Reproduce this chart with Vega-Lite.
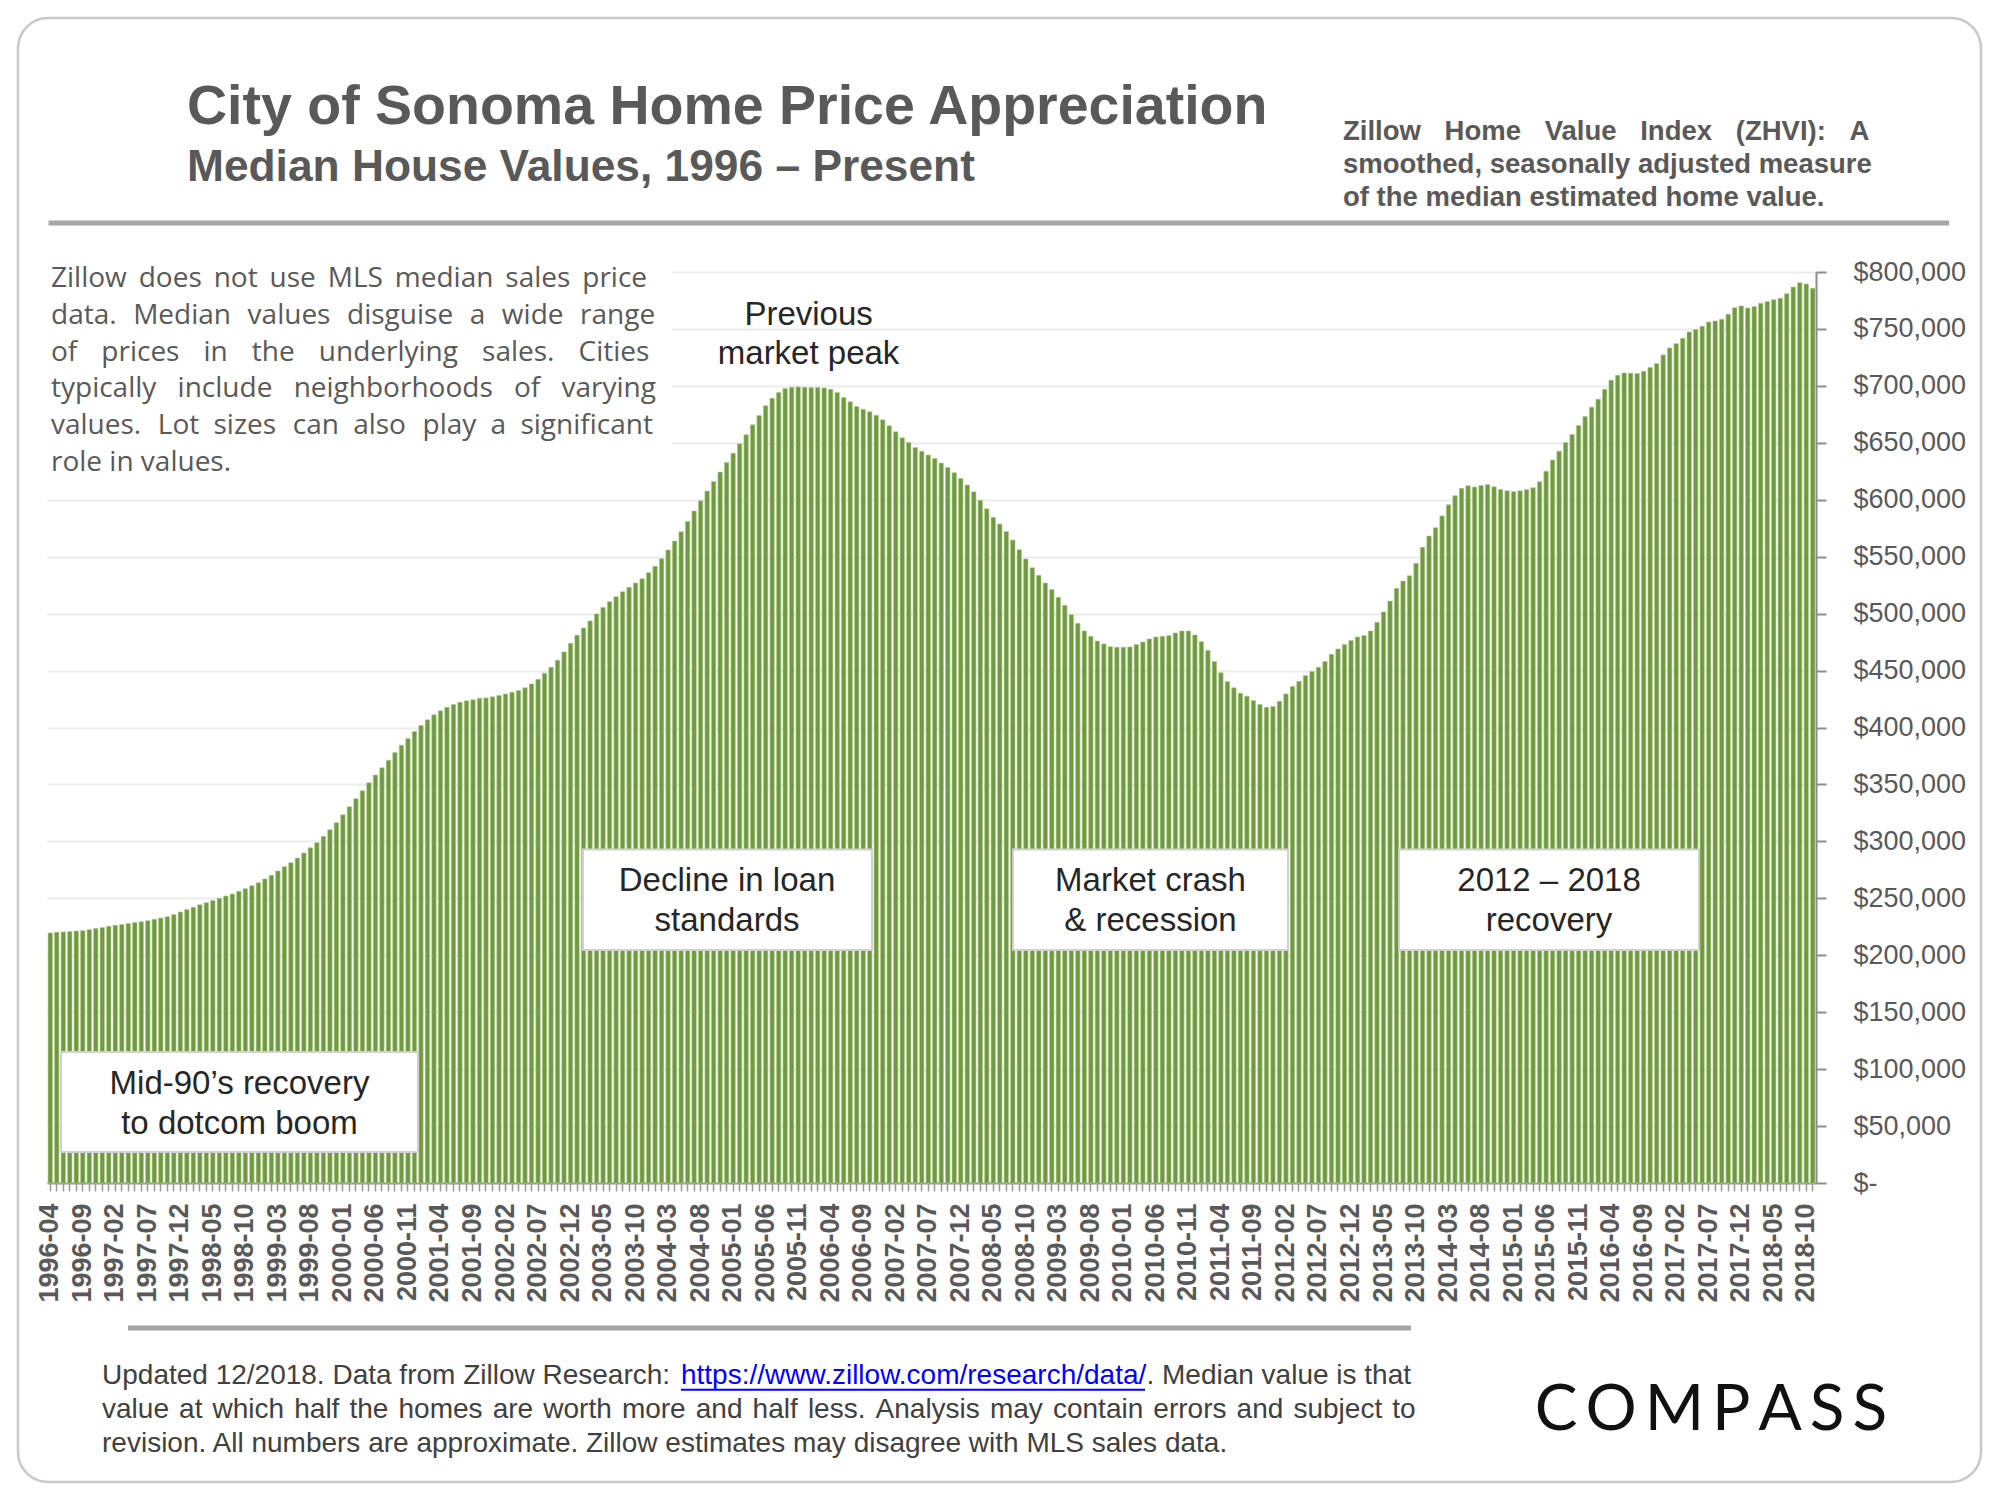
{
"$schema": "https://vega.github.io/schema/vega-lite/v6.json",
"width": 1769, "height": 911,
"autosize": {"type": "none"},
"padding": {"left": 47, "top": 272, "right": 184, "bottom": 317},
"background": "white",
"config": {"font": "Liberation Sans", "view": {"stroke": null}},
"resolve": {"scale": {"x": "independent", "y": "independent"}},
"layer": [
{"data": {"values": [{}]},
 "mark": {"type": "rect", "fill": "white", "fillOpacity": 0, "stroke": "#c8c8c8", "strokeWidth": 2.5, "cornerRadius": 30},
 "encoding": {"x": {"datum": -4.96, "type": "quantitative", "scale": {"domain": [-0.5, 271.5], "nice": false, "zero": false}, "axis": null},
  "x2": {"datum": 296.87},
  "y": {"datum": 1023056, "type": "quantitative", "scale": {"domain": [0, 800000], "nice": false}, "axis": null},
  "y2": {"datum": -262570}}},
{"data": {"values": [
{"month":"1996-04","value":219600},{"month":"1996-05","value":220200},{"month":"1996-06","value":220500},{"month":"1996-07","value":220800},{"month":"1996-08","value":221300},{"month":"1996-09","value":221600},{"month":"1996-10","value":222500},{"month":"1996-11","value":223400},{"month":"1996-12","value":224300},
{"month":"1997-01","value":225400},{"month":"1997-02","value":226300},{"month":"1997-03","value":226900},{"month":"1997-04","value":227800},{"month":"1997-05","value":228700},{"month":"1997-06","value":229500},{"month":"1997-07","value":230400},{"month":"1997-08","value":231600},{"month":"1997-09","value":232700},{"month":"1997-10","value":233900},{"month":"1997-11","value":235700},{"month":"1997-12","value":238000},
{"month":"1998-01","value":240100},{"month":"1998-02","value":242100},{"month":"1998-03","value":244400},{"month":"1998-04","value":246200},{"month":"1998-05","value":248000},{"month":"1998-06","value":250000},{"month":"1998-07","value":252000},{"month":"1998-08","value":253800},{"month":"1998-09","value":256100},{"month":"1998-10","value":258500},{"month":"1998-11","value":261100},{"month":"1998-12","value":263700},
{"month":"1999-01","value":267000},{"month":"1999-02","value":270200},{"month":"1999-03","value":274000},{"month":"1999-04","value":277800},{"month":"1999-05","value":281300},{"month":"1999-06","value":285400},{"month":"1999-07","value":289800},{"month":"1999-08","value":294400},{"month":"1999-09","value":298800},{"month":"1999-10","value":304400},{"month":"1999-11","value":310200},{"month":"1999-12","value":316400},
{"month":"2000-01","value":323400},{"month":"2000-02","value":330400},{"month":"2000-03","value":337400},{"month":"2000-04","value":344400},{"month":"2000-05","value":351500},{"month":"2000-06","value":358200},{"month":"2000-07","value":364600},{"month":"2000-08","value":371300},{"month":"2000-09","value":378100},{"month":"2000-10","value":384500},{"month":"2000-11","value":390300},{"month":"2000-12","value":396500},
{"month":"2001-01","value":401800},{"month":"2001-02","value":406700},{"month":"2001-03","value":411100},{"month":"2001-04","value":414600},{"month":"2001-05","value":417800},{"month":"2001-06","value":420200},{"month":"2001-07","value":422200},{"month":"2001-08","value":423400},{"month":"2001-09","value":424300},{"month":"2001-10","value":425700},{"month":"2001-11","value":426000},{"month":"2001-12","value":426900},
{"month":"2002-01","value":428100},{"month":"2002-02","value":429500},{"month":"2002-03","value":431000},{"month":"2002-04","value":432600},{"month":"2002-05","value":435000},{"month":"2002-06","value":438300},{"month":"2002-07","value":442300},{"month":"2002-08","value":447700},{"month":"2002-09","value":452900},{"month":"2002-10","value":459100},{"month":"2002-11","value":466400},{"month":"2002-12","value":474000},
{"month":"2003-01","value":481000},{"month":"2003-02","value":487400},{"month":"2003-03","value":493600},{"month":"2003-04","value":499700},{"month":"2003-05","value":505300},{"month":"2003-06","value":510500},{"month":"2003-07","value":514900},{"month":"2003-08","value":519300},{"month":"2003-09","value":523100},{"month":"2003-10","value":526900},{"month":"2003-11","value":530700},{"month":"2003-12","value":536000},
{"month":"2004-01","value":541500},{"month":"2004-02","value":548200},{"month":"2004-03","value":555800},{"month":"2004-04","value":563700},{"month":"2004-05","value":571900},{"month":"2004-06","value":581000},{"month":"2004-07","value":590100},{"month":"2004-08","value":599100},{"month":"2004-09","value":607600},{"month":"2004-10","value":616100},{"month":"2004-11","value":624300},{"month":"2004-12","value":632800},
{"month":"2005-01","value":640900},{"month":"2005-02","value":649100},{"month":"2005-03","value":657000},{"month":"2005-04","value":665800},{"month":"2005-05","value":674000},{"month":"2005-06","value":682500},{"month":"2005-07","value":689200},{"month":"2005-08","value":694200},{"month":"2005-09","value":697700},{"month":"2005-10","value":698800},{"month":"2005-11","value":699100},{"month":"2005-12","value":698800},
{"month":"2006-01","value":698500},{"month":"2006-02","value":698500},{"month":"2006-03","value":698200},{"month":"2006-04","value":697100},{"month":"2006-05","value":694200},{"month":"2006-06","value":689800},{"month":"2006-07","value":686000},{"month":"2006-08","value":681900},{"month":"2006-09","value":679500},{"month":"2006-10","value":677200},{"month":"2006-11","value":674300},{"month":"2006-12","value":670200},
{"month":"2007-01","value":664900},{"month":"2007-02","value":659700},{"month":"2007-03","value":654400},{"month":"2007-04","value":650300},{"month":"2007-05","value":645900},{"month":"2007-06","value":642700},{"month":"2007-07","value":639200},{"month":"2007-08","value":636300},{"month":"2007-09","value":632200},{"month":"2007-10","value":628400},{"month":"2007-11","value":623700},{"month":"2007-12","value":618700},
{"month":"2008-01","value":612900},{"month":"2008-02","value":607000},{"month":"2008-03","value":599500},{"month":"2008-04","value":592000},{"month":"2008-05","value":584600},{"month":"2008-06","value":578700},{"month":"2008-07","value":572200},{"month":"2008-08","value":564600},{"month":"2008-09","value":556100},{"month":"2008-10","value":548000},{"month":"2008-11","value":540300},{"month":"2008-12","value":533600},
{"month":"2009-01","value":526900},{"month":"2009-02","value":521100},{"month":"2009-03","value":514300},{"month":"2009-04","value":507300},{"month":"2009-05","value":499100},{"month":"2009-06","value":491500},{"month":"2009-07","value":484800},{"month":"2009-08","value":480100},{"month":"2009-09","value":476000},{"month":"2009-10","value":473400},{"month":"2009-11","value":471000},{"month":"2009-12","value":470500},
{"month":"2010-01","value":470500},{"month":"2010-02","value":470800},{"month":"2010-03","value":472800},{"month":"2010-04","value":475100},{"month":"2010-05","value":477800},{"month":"2010-06","value":479500},{"month":"2010-07","value":480100},{"month":"2010-08","value":480700},{"month":"2010-09","value":483000},{"month":"2010-10","value":484800},{"month":"2010-11","value":484800},{"month":"2010-12","value":481300},
{"month":"2011-01","value":475400},{"month":"2011-02","value":467800},{"month":"2011-03","value":457900},{"month":"2011-04","value":448000},{"month":"2011-05","value":440300},{"month":"2011-06","value":434800},{"month":"2011-07","value":430100},{"month":"2011-08","value":427500},{"month":"2011-09","value":423700},{"month":"2011-10","value":420200},{"month":"2011-11","value":417800},{"month":"2011-12","value":418400},
{"month":"2012-01","value":423100},{"month":"2012-02","value":429500},{"month":"2012-03","value":436000},{"month":"2012-04","value":440600},{"month":"2012-05","value":445600},{"month":"2012-06","value":449100},{"month":"2012-07","value":452900},{"month":"2012-08","value":457900},{"month":"2012-09","value":464300},{"month":"2012-10","value":469000},{"month":"2012-11","value":472800},{"month":"2012-12","value":476300},
{"month":"2013-01","value":479500},{"month":"2013-02","value":480700},{"month":"2013-03","value":484800},{"month":"2013-04","value":492400},{"month":"2013-05","value":501500},{"month":"2013-06","value":511100},{"month":"2013-07","value":522200},{"month":"2013-08","value":528700},{"month":"2013-09","value":533300},{"month":"2013-10","value":544200},{"month":"2013-11","value":558200},{"month":"2013-12","value":568100},
{"month":"2014-01","value":575500},{"month":"2014-02","value":585800},{"month":"2014-03","value":595600},{"month":"2014-04","value":603500},{"month":"2014-05","value":610000},{"month":"2014-06","value":612300},{"month":"2014-07","value":611100},{"month":"2014-08","value":612600},{"month":"2014-09","value":613500},{"month":"2014-10","value":611400},{"month":"2014-11","value":609100},{"month":"2014-12","value":607900},
{"month":"2015-01","value":607300},{"month":"2015-02","value":607900},{"month":"2015-03","value":609100},{"month":"2015-04","value":610500},{"month":"2015-05","value":615800},{"month":"2015-06","value":625100},{"month":"2015-07","value":634800},{"month":"2015-08","value":642700},{"month":"2015-09","value":650300},{"month":"2015-10","value":657300},{"month":"2015-11","value":665200},{"month":"2015-12","value":673100},
{"month":"2016-01","value":681300},{"month":"2016-02","value":688300},{"month":"2016-03","value":697100},{"month":"2016-04","value":705000},{"month":"2016-05","value":709400},{"month":"2016-06","value":711400},{"month":"2016-07","value":711100},{"month":"2016-08","value":710800},{"month":"2016-09","value":712900},{"month":"2016-10","value":716100},{"month":"2016-11","value":719600},{"month":"2016-12","value":727200},
{"month":"2017-01","value":733300},{"month":"2017-02","value":737100},{"month":"2017-03","value":741800},{"month":"2017-04","value":747400},{"month":"2017-05","value":749400},{"month":"2017-06","value":752300},{"month":"2017-07","value":756100},{"month":"2017-08","value":757000},{"month":"2017-09","value":758500},{"month":"2017-10","value":762900},{"month":"2017-11","value":768700},{"month":"2017-12","value":770200},
{"month":"2018-01","value":768400},{"month":"2018-02","value":769600},{"month":"2018-03","value":772500},{"month":"2018-04","value":774000},{"month":"2018-05","value":775700},{"month":"2018-06","value":776900},{"month":"2018-07","value":781000},{"month":"2018-08","value":786800},{"month":"2018-09","value":790600},{"month":"2018-10","value":789500},{"month":"2018-11","value":785700}
 ]},
 "mark": {"type": "bar", "fill": "#6e9a40", "stroke": "#b3cb8c", "strokeWidth": 0.6},
 "encoding": {
  "x": {"field": "month", "type": "ordinal", "scale": {"paddingInner": 0.32, "paddingOuter": 0.16},
   "axis": {"title": null, "labelExpr": "((toNumber(substring(datum.value,0,4))-1996)*12+toNumber(substring(datum.value,5,7))-4)%5===0 ? datum.value : ''",
    "labelAngle": -90, "labelAlign": "right", "labelBaseline": "middle", "labelFontSize": 27, "labelFontWeight": "bold", "labelColor": "#595959",
    "labelPadding": 12, "labelOverlap": false, "labelBound": false, "tickSize": 8, "tickColor": "#999999", "tickWidth": 1.5,
    "domainColor": "#999999", "domainWidth": 2, "grid": false}},
  "y": {"field": "value", "type": "quantitative", "scale": {"domain": [0, 800000], "nice": false},
   "axis": {"orient": "right", "title": null, "values": [0,50000,100000,150000,200000,250000,300000,350000,400000,450000,500000,550000,600000,650000,700000,750000,800000],
    "labelExpr": "datum.value === 0 ? '$-' : '$' + format(datum.value, ',')",
    "labelAlign": "left", "labelBaseline": "middle", "labelPadding": 27, "labelFontSize": 27, "labelColor": "#595959", "labelFlush": false,
    "tickSize": 10, "tickColor": "#8c8c8c", "tickWidth": 2, "domainColor": "#8c8c8c", "domainWidth": 2,
    "grid": true, "gridColor": "#ececec", "gridWidth": 2}}
 }},
{"data": {"values": [{}]},
 "mark": {"type": "rect", "fill": "white"},
 "encoding": {"x": {"datum": -1.58, "type": "quantitative", "scale": {"domain": [-0.5, 271.5], "nice": false, "zero": false}, "axis": null},
  "x2": {"datum": 95.6},
  "y": {"datum": 814932, "type": "quantitative", "scale": {"domain": [0, 800000], "nice": false}, "axis": null},
  "y2": {"datum": 615590}}},
{"data": {"values": [{}]},
 "mark": {"type": "rule", "stroke": "#a6a6a6", "strokeWidth": 5},
 "encoding": {"x": {"datum": -0.27, "type": "quantitative", "scale": {"domain": [-0.5, 271.5], "nice": false, "zero": false}, "axis": null},
  "x2": {"datum": 291.95},
  "y": {"datum": 843034, "type": "quantitative", "scale": {"domain": [0, 800000], "nice": false}, "axis": null}}},
{"data": {"values": [{}]},
 "mark": {"type": "rule", "stroke": "#a6a6a6", "strokeWidth": 5},
 "encoding": {"x": {"datum": 11.95, "type": "quantitative", "scale": {"domain": [-0.5, 271.5], "nice": false, "zero": false}, "axis": null},
  "x2": {"datum": 209.23},
  "y": {"datum": -127333, "type": "quantitative", "scale": {"domain": [0, 800000], "nice": false}, "axis": null}}},
{"data": {"values": [{}]},
 "mark": {"type": "text", "text": "City of Sonoma Home Price Appreciation", "align": "left", "baseline": "alphabetic", "fontSize": 55.5, "fontWeight": "bold", "color": "#595959"},
 "encoding": {"x": {"datum": 21.03, "type": "quantitative", "scale": {"domain": [-0.5, 271.5], "nice": false, "zero": false}, "axis": null},
  "y": {"datum": 929971, "type": "quantitative", "scale": {"domain": [0, 800000], "nice": false}, "axis": null}}},
{"data": {"values": [{}]},
 "mark": {"type": "text", "text": "Median House Values, 1996 – Present", "align": "left", "baseline": "alphabetic", "fontSize": 44.3, "fontWeight": "bold", "color": "#595959"},
 "encoding": {"x": {"datum": 21.03, "type": "quantitative", "scale": {"domain": [-0.5, 271.5], "nice": false, "zero": false}, "axis": null},
  "y": {"datum": 879916, "type": "quantitative", "scale": {"domain": [0, 800000], "nice": false}, "axis": null}}},
{"data": {"values": [{}]},
 "mark": {"type": "text", "text": ["Zillow \u2002\u200AHome \u2002\u200AValue \u2002\u200AIndex \u2002\u200A(ZHVI): \u2002\u200AA", "smoothed, seasonally adjusted measure", "of the median estimated home value."], "lineHeight": 33, "align": "left", "baseline": "alphabetic", "fontSize": 27.5, "fontWeight": "bold", "color": "#595959"},
 "encoding": {"x": {"datum": 198.77, "type": "quantitative", "scale": {"domain": [-0.5, 271.5], "nice": false, "zero": false}, "axis": null},
  "y": {"datum": 915921, "type": "quantitative", "scale": {"domain": [0, 800000], "nice": false}, "axis": null}}},
{"data": {"values": [{}]},
 "mark": {"type": "text", "text": ["Zillow \u2009does \u2009not \u2009use \u2009MLS \u2009median \u2009sales \u2009price", "data. \u2004Median \u2004values \u2004disguise \u2004a \u2004wide \u2004range", "of \u2002\u200Aprices \u2002\u200Ain \u2002\u200Athe \u2002\u200Aunderlying \u2002\u200Asales. \u2002\u200ACities", "typically \u2002include \u2002neighborhoods \u2002of \u2002varying", "values. \u2004Lot \u2005sizes \u2004can \u2005also \u2004play \u2005a \u2005significant", "role in values."], "lineHeight": 36.8, "align": "left", "baseline": "alphabetic", "font": "Open Sans", "fontSize": 28, "color": "#595959"},
 "encoding": {"x": {"datum": 0.115, "type": "quantitative", "scale": {"domain": [-0.5, 271.5], "nice": false, "zero": false}, "axis": null},
  "y": {"datum": 786831, "type": "quantitative", "scale": {"domain": [0, 800000], "nice": false}, "axis": null}}},
{"data": {"values": [{}]},
 "mark": {"type": "text", "text": ["Previous", "market peak"], "lineHeight": 39, "align": "center", "baseline": "alphabetic", "fontSize": 33, "color": "#262626"},
 "encoding": {"x": {"datum": 116.6, "type": "quantitative", "scale": {"domain": [-0.5, 271.5], "nice": false, "zero": false}, "axis": null},
  "y": {"datum": 753461, "type": "quantitative", "scale": {"domain": [0, 800000], "nice": false}, "axis": null}}},
{"data": {"values": [{}]},
 "mark": {"type": "rect", "fill": "white", "stroke": "#d0d0d0", "strokeWidth": 2},
 "encoding": {"x": {"datum": 81.91, "type": "quantitative", "scale": {"domain": [-0.5, 271.5], "nice": false, "zero": false}, "axis": null},
  "x2": {"datum": 126.35},
  "y": {"datum": 292866, "type": "quantitative", "scale": {"domain": [0, 800000], "nice": false}, "axis": null},
  "y2": {"datum": 204611}}},
{"data": {"values": [{}]},
 "mark": {"type": "text", "text": ["Decline in loan", "standards"], "lineHeight": 40, "align": "center", "baseline": "alphabetic", "fontSize": 33, "color": "#262626"},
 "encoding": {"x": {"datum": 104.06, "type": "quantitative", "scale": {"domain": [-0.5, 271.5], "nice": false, "zero": false}, "axis": null},
  "y": {"datum": 256423, "type": "quantitative", "scale": {"domain": [0, 800000], "nice": false}, "axis": null}}},
{"data": {"values": [{}]},
 "mark": {"type": "rect", "fill": "white", "stroke": "#d0d0d0", "strokeWidth": 2},
 "encoding": {"x": {"datum": 148.03, "type": "quantitative", "scale": {"domain": [-0.5, 271.5], "nice": false, "zero": false}, "axis": null},
  "x2": {"datum": 190.31},
  "y": {"datum": 292866, "type": "quantitative", "scale": {"domain": [0, 800000], "nice": false}, "axis": null},
  "y2": {"datum": 204611}}},
{"data": {"values": [{}]},
 "mark": {"type": "text", "text": ["Market crash", "& recession"], "lineHeight": 40, "align": "center", "baseline": "alphabetic", "fontSize": 33, "color": "#262626"},
 "encoding": {"x": {"datum": 169.17, "type": "quantitative", "scale": {"domain": [-0.5, 271.5], "nice": false, "zero": false}, "axis": null},
  "y": {"datum": 256423, "type": "quantitative", "scale": {"domain": [0, 800000], "nice": false}, "axis": null}}},
{"data": {"values": [{}]},
 "mark": {"type": "rect", "fill": "white", "stroke": "#d0d0d0", "strokeWidth": 2},
 "encoding": {"x": {"datum": 207.38, "type": "quantitative", "scale": {"domain": [-0.5, 271.5], "nice": false, "zero": false}, "axis": null},
  "x2": {"datum": 253.51},
  "y": {"datum": 292866, "type": "quantitative", "scale": {"domain": [0, 800000], "nice": false}, "axis": null},
  "y2": {"datum": 204611}}},
{"data": {"values": [{}]},
 "mark": {"type": "text", "text": ["2012 – 2018", "recovery"], "lineHeight": 40, "align": "center", "baseline": "alphabetic", "fontSize": 33, "color": "#262626"},
 "encoding": {"x": {"datum": 230.45, "type": "quantitative", "scale": {"domain": [-0.5, 271.5], "nice": false, "zero": false}, "axis": null},
  "y": {"datum": 256423, "type": "quantitative", "scale": {"domain": [0, 800000], "nice": false}, "axis": null}}},
{"data": {"values": [{}]},
 "mark": {"type": "rect", "fill": "white", "stroke": "#d0d0d0", "strokeWidth": 2},
 "encoding": {"x": {"datum": 1.65, "type": "quantitative", "scale": {"domain": [-0.5, 271.5], "nice": false, "zero": false}, "axis": null},
  "x2": {"datum": 56.54},
  "y": {"datum": 115039, "type": "quantitative", "scale": {"domain": [0, 800000], "nice": false}, "axis": null},
  "y2": {"datum": 27223}}},
{"data": {"values": [{}]},
 "mark": {"type": "text", "text": ["Mid-90’s recovery", "to dotcom boom"], "lineHeight": 40, "align": "center", "baseline": "alphabetic", "fontSize": 33, "color": "#262626"},
 "encoding": {"x": {"datum": 29.1, "type": "quantitative", "scale": {"domain": [-0.5, 271.5], "nice": false, "zero": false}, "axis": null},
  "y": {"datum": 78156, "type": "quantitative", "scale": {"domain": [0, 800000], "nice": false}, "axis": null}}},
{"data": {"values": [{}]},
 "mark": {"type": "text", "text": "Updated 12/2018. Data from Zillow Research:", "align": "left", "baseline": "alphabetic", "fontSize": 28, "color": "#404040"},
 "encoding": {"x": {"datum": 7.96, "type": "quantitative", "scale": {"domain": [-0.5, 271.5], "nice": false, "zero": false}, "axis": null},
  "y": {"datum": -176510, "type": "quantitative", "scale": {"domain": [0, 800000], "nice": false}, "axis": null}}},
{"data": {"values": [{}]},
 "mark": {"type": "text", "text": "https://www.zillow.com/research/data/", "align": "left", "baseline": "alphabetic", "fontSize": 28, "color": "#0000ff"},
 "encoding": {"x": {"datum": 96.98, "type": "quantitative", "scale": {"domain": [-0.5, 271.5], "nice": false, "zero": false}, "axis": null},
  "y": {"datum": -176510, "type": "quantitative", "scale": {"domain": [0, 800000], "nice": false}, "axis": null}}},
{"data": {"values": [{}]},
 "mark": {"type": "rule", "stroke": "#0000ff", "strokeWidth": 2},
 "encoding": {"x": {"datum": 96.98, "type": "quantitative", "scale": {"domain": [-0.5, 271.5], "nice": false, "zero": false}, "axis": null},
  "x2": {"datum": 168.33},
  "y": {"datum": -181500, "type": "quantitative", "scale": {"domain": [0, 800000], "nice": false}, "axis": null}}},
{"data": {"values": [{}]},
 "mark": {"type": "text", "text": ". Median value is that", "align": "right", "baseline": "alphabetic", "fontSize": 28, "color": "#404040"},
 "encoding": {"x": {"datum": 209.23, "type": "quantitative", "scale": {"domain": [-0.5, 271.5], "nice": false, "zero": false}, "axis": null},
  "y": {"datum": -176510, "type": "quantitative", "scale": {"domain": [0, 800000], "nice": false}, "axis": null}}},
{"data": {"values": [{}]},
 "mark": {"type": "text", "text": ["value \u200Aat \u200Awhich \u200Ahalf \u200Athe \u200Ahomes \u200Aare \u200Aworth \u200Amore \u200Aand \u200Ahalf \u200Aless. \u200AAnalysis \u200Amay \u200Acontain \u200Aerrors \u200Aand \u200Asubject \u200Ato", "revision. All numbers are approximate. Zillow estimates may disagree with MLS sales data."], "lineHeight": 34, "align": "left", "baseline": "alphabetic", "fontSize": 28, "color": "#404040"},
 "encoding": {"x": {"datum": 7.96, "type": "quantitative", "scale": {"domain": [-0.5, 271.5], "nice": false, "zero": false}, "axis": null},
  "y": {"datum": -206500, "type": "quantitative", "scale": {"domain": [0, 800000], "nice": false}, "axis": null}}},
{"data": {"values": [{}]},
 "mark": {"type": "text", "text": "C\u2009O\u2009M\u2009P\u2009A\u2009S\u2009S", "align": "center", "baseline": "alphabetic", "font": "Lato", "fontSize": 64, "color": "#111111"},
 "encoding": {"x": {"datum": 255.35, "type": "quantitative", "scale": {"domain": [-0.5, 271.5], "nice": false, "zero": false}, "axis": null},
  "y": {"datum": -216906, "type": "quantitative", "scale": {"domain": [0, 800000], "nice": false}, "axis": null}}}
]
}
